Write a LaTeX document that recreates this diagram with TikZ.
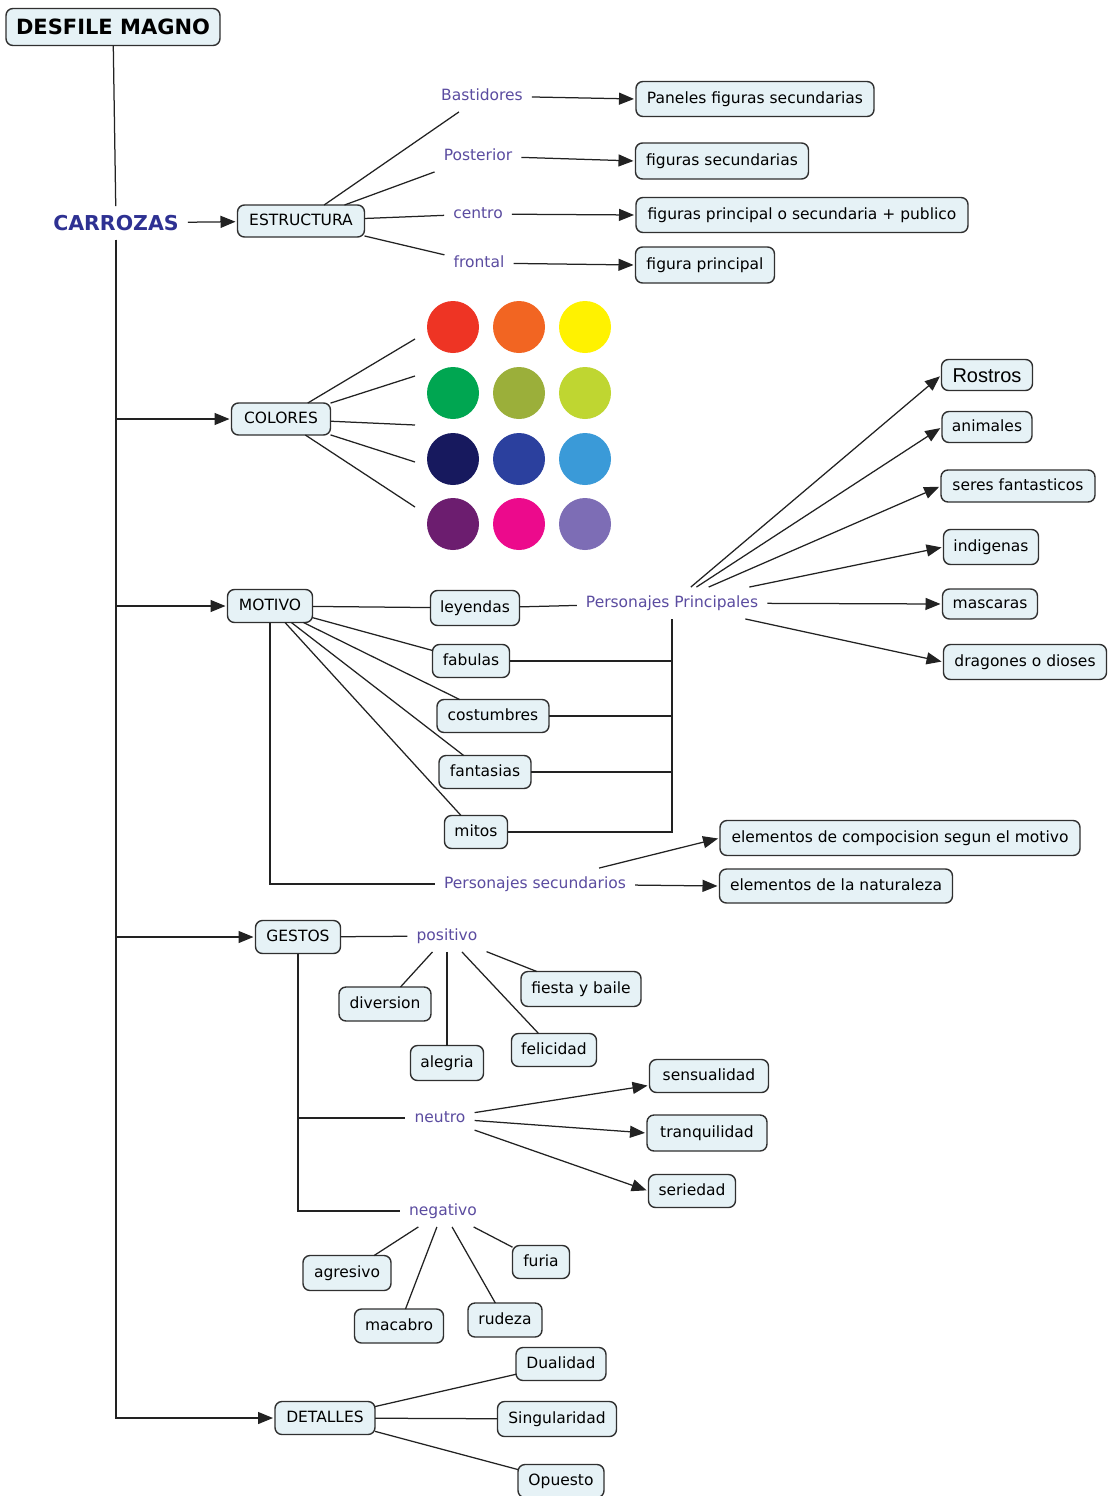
\documentclass[tikz,border=0pt]{standalone}
\usepackage{fontspec}
\setmainfont{DejaVu Sans}
\newfontfamily\rostrosfont{Liberation Sans}
\usetikzlibrary{arrows.meta}

\definecolor{boxfill}{HTML}{E6F2F6}
\definecolor{boxline}{HTML}{303030}
\definecolor{linkcol}{HTML}{222222}
\definecolor{labelcol}{HTML}{5B4CA0}
\definecolor{headcol}{HTML}{2E3192}
% palette swatches
\definecolor{sw11}{HTML}{EE3424}
\definecolor{sw12}{HTML}{F26522}
\definecolor{sw13}{HTML}{FFF200}
\definecolor{sw21}{HTML}{00A651}
\definecolor{sw22}{HTML}{9BAF3A}
\definecolor{sw23}{HTML}{BFD631}
\definecolor{sw31}{HTML}{17195E}
\definecolor{sw32}{HTML}{2B409E}
\definecolor{sw33}{HTML}{3A9AD8}
\definecolor{sw41}{HTML}{6C1D6F}
\definecolor{sw42}{HTML}{EC0A8C}
\definecolor{sw43}{HTML}{7D6DB5}

\begin{document}
\begin{tikzpicture}[x=1pt,y=-1pt,
  basefont/.style={font=\fontsize{15.5}{18}\selectfont},
  concept/.style={basefont, draw=boxline, fill=boxfill, line width=1.4pt,
    rounded corners=7pt, inner xsep=9pt, inner ysep=0pt, minimum height=34pt,
    text height=11.8pt, text depth=3.7pt, outer sep=0pt},
  linkword/.style={basefont, text=labelcol, inner xsep=9pt, inner ysep=8pt,
    text height=11.8pt, text depth=3.7pt},
  headword/.style={font=\fontsize{20.5}{24}\bfseries, text=headcol,
    inner xsep=9pt, inner ysep=9pt},
  link/.style={draw=linkcol, line width=1.25pt},
  arr/.style={link, shorten >=2pt, -{Triangle[length=15pt,width=12pt]}},
  swatch/.style={circle, minimum size=52pt, inner sep=0pt},
]
\useasboundingbox (0,0) rectangle (1110,1496);
\fill[white] (0,0) rectangle (1110,1496);

% ---------- root ----------
\node[concept, font=\fontsize{21}{24}\bfseries, text height=15.5pt, text depth=0pt,
      minimum width=214pt, minimum height=37pt] (desfile) at (113,27) {DESFILE MAGNO};
\node[headword] (carrozas) at (116,223) {CARROZAS};

% ---------- estructura ----------
\node[concept, minimum width=127pt, minimum height=32pt] (estr) at (301,221) {ESTRUCTURA};
\node[linkword] (bast) at (482,96) {Bastidores};
\node[linkword] (post) at (478,156) {Posterior};
\node[linkword] (centro) at (478,214) {centro};
\node[linkword] (frontal) at (479,263) {frontal};
\node[concept, minimum width=238pt, minimum height=35pt] (paneles) at (755,99) {Paneles figuras secundarias};
\node[concept, minimum width=173pt, minimum height=36pt] (figsec) at (722,161) {figuras secundarias};
\node[concept, minimum width=332pt, minimum height=35pt] (figpos) at (802,215) {figuras principal o secundaria + publico};
\node[concept, minimum width=139pt, minimum height=36pt] (figprin) at (705,265) {figura principal};

% ---------- colores ----------
\node[concept, minimum width=99pt, minimum height=32pt] (colores) at (281,419) {COLORES};
\coordinate (k1) at (415,339);
\coordinate (k2) at (415,376);
\coordinate (k3) at (415,425);
\coordinate (k4) at (415,462);
\coordinate (k5) at (415,507);
\foreach \r/\yy in {1/327,2/393,3/459,4/524}{
  \foreach \c/\xx in {1/453,2/519,3/585}{
    \node[swatch, fill=sw\r\c] (sw\r\c) at (\xx,\yy) {};
  }
}

% ---------- motivo ----------
\node[concept, minimum width=85pt, minimum height=33pt] (motivo) at (270,606) {MOTIVO};
\node[concept, minimum width=89pt, minimum height=35pt] (leyendas) at (475,608) {leyendas};
\node[concept, minimum width=77pt, minimum height=33pt] (fabulas) at (471,661) {fabulas};
\node[concept, minimum width=112pt, minimum height=33pt] (costumbres) at (493,716) {costumbres};
\node[concept, minimum width=92pt, minimum height=33pt] (fantasias) at (485,772) {fantasias};
\node[concept, minimum width=63pt, minimum height=33pt] (mitos) at (476,832) {mitos};
\node[linkword] (pp) at (672,603) {Personajes Principales};
\node[linkword] (psec) at (535,884) {Personajes secundarios};

\node[concept, font=\rostrosfont\fontsize{20}{24}\selectfont, text height=14.5pt, text depth=0pt,
      inner xsep=11pt, minimum width=91pt, minimum height=31pt] (rostros) at (987,375) {Rostros};
\node[concept, minimum width=90pt, minimum height=31pt] (animales) at (987,427) {animales};
\node[concept, minimum width=154pt, minimum height=32pt] (seres) at (1018,486) {seres fantasticos};
\node[concept, minimum width=95pt, minimum height=35pt] (indigenas) at (991,547) {indigenas};
\node[concept, minimum width=95pt, minimum height=30pt] (mascaras) at (990,604) {mascaras};
\node[concept, minimum width=163pt, minimum height=35pt] (dragones) at (1025,662) {dragones o dioses};
\node[concept, minimum width=360pt, minimum height=35pt] (elcomp) at (900,838) {elementos de compocision segun el motivo};
\node[concept, minimum width=233pt, minimum height=34pt] (elnat) at (836,886) {elementos de la naturaleza};

% ---------- gestos ----------
\node[concept, minimum width=85pt, minimum height=33pt] (gestos) at (298,937) {GESTOS};
\node[linkword] (positivo) at (447,936) {positivo};
\node[linkword] (neutro) at (440,1118) {neutro};
\node[linkword] (negativo) at (443,1211) {negativo};
\node[concept, minimum width=92pt, minimum height=34pt] (diversion) at (385,1004) {diversion};
\node[concept, minimum width=73pt, minimum height=35pt] (alegria) at (447,1063) {alegria};
\node[concept, minimum width=85pt, minimum height=33pt] (felicidad) at (554,1050) {felicidad};
\node[concept, minimum width=120pt, minimum height=35pt] (fiesta) at (581,989) {fiesta y baile};
\node[concept, minimum width=119pt, minimum height=33pt] (sensual) at (709,1076) {sensualidad};
\node[concept, minimum width=120pt, minimum height=36pt] (tranq) at (707,1133) {tranquilidad};
\node[concept, minimum width=87pt, minimum height=33pt] (seriedad) at (692,1191) {seriedad};
\node[concept, minimum width=88pt, minimum height=35pt] (agresivo) at (347,1273) {agresivo};
\node[concept, minimum width=89pt, minimum height=34pt] (macabro) at (399,1326) {macabro};
\node[concept, minimum width=74pt, minimum height=34pt] (rudeza) at (505,1320) {rudeza};
\node[concept, minimum width=57pt, minimum height=33pt] (furia) at (541,1262) {furia};

% ---------- detalles ----------
\node[concept, minimum width=100pt, minimum height=33pt] (detalles) at (325,1418) {DETALLES};
\node[concept, minimum width=90pt, minimum height=33pt] (dualidad) at (561,1364) {Dualidad};
\node[concept, minimum width=119pt, minimum height=35pt] (singular) at (557,1419) {Singularidad};
\node[concept, minimum width=86pt, minimum height=33pt] (opuesto) at (561,1481) {Opuesto};

% ---------- connectors ----------
\draw[link] (desfile) -- (carrozas);
\draw[arr] (carrozas) -- (estr);
\draw[arr] (carrozas) |- (colores);
\draw[arr] (carrozas) |- (motivo);
\draw[arr] (carrozas) |- (gestos);
\draw[arr] (carrozas) |- (detalles);

\draw[link] (estr) -- (bast);
\draw[link] (estr) -- (post);
\draw[link] (estr) -- (centro);
\draw[link] (estr) -- (frontal);
\draw[arr] (bast) -- (paneles.west);
\draw[arr] (post) -- (figsec.west);
\draw[arr] (centro) -- (figpos.west);
\draw[arr] (frontal) -- (figprin.west);

\foreach \k in {k1,k2,k3,k4,k5} \draw[link] (colores) -- (\k);

\draw[link] (motivo) -- (leyendas);
\draw[link] (leyendas) -- (pp);
\draw[link] (motivo) -- (fabulas);
\draw[link] (motivo) -- (costumbres);
\draw[link] (motivo) -- (fantasias);
\draw[link] (motivo) -- (mitos);
\draw[link] (fabulas) -| (pp);
\draw[link] (costumbres) -| (pp);
\draw[link] (fantasias) -| (pp);
\draw[link] (mitos) -| (pp);
\draw[link] (motivo) |- (psec);
\draw[arr] (pp) -- (rostros.west);
\draw[arr] (pp) -- (animales.west);
\draw[arr] (pp) -- (seres.west);
\draw[arr] (pp) -- (indigenas.west);
\draw[arr] (pp) -- (mascaras.west);
\draw[arr] (pp) -- (dragones.west);
\draw[arr] (psec) -- (elcomp.west);
\draw[arr] (psec) -- (elnat.west);

\draw[link] (gestos) -- (positivo);
\draw[link] (gestos) |- (neutro);
\draw[link] (gestos) |- (negativo);
\draw[link] (positivo) -- (diversion);
\draw[link] (positivo) -- (alegria);
\draw[link] (positivo) -- (felicidad);
\draw[link] (positivo) -- (fiesta);
\draw[arr] (neutro) -- (sensual);
\draw[arr] (neutro) -- (tranq.west);
\draw[arr] (neutro) -- (seriedad.west);
\draw[link] (negativo) -- (agresivo);
\draw[link] (negativo) -- (macabro);
\draw[link] (negativo) -- (rudeza);
\draw[link] (negativo) -- (furia);

\draw[link] (detalles) -- (dualidad);
\draw[link] (detalles) -- (singular);
\draw[link] (detalles) -- (opuesto);
\end{tikzpicture}
\end{document}
